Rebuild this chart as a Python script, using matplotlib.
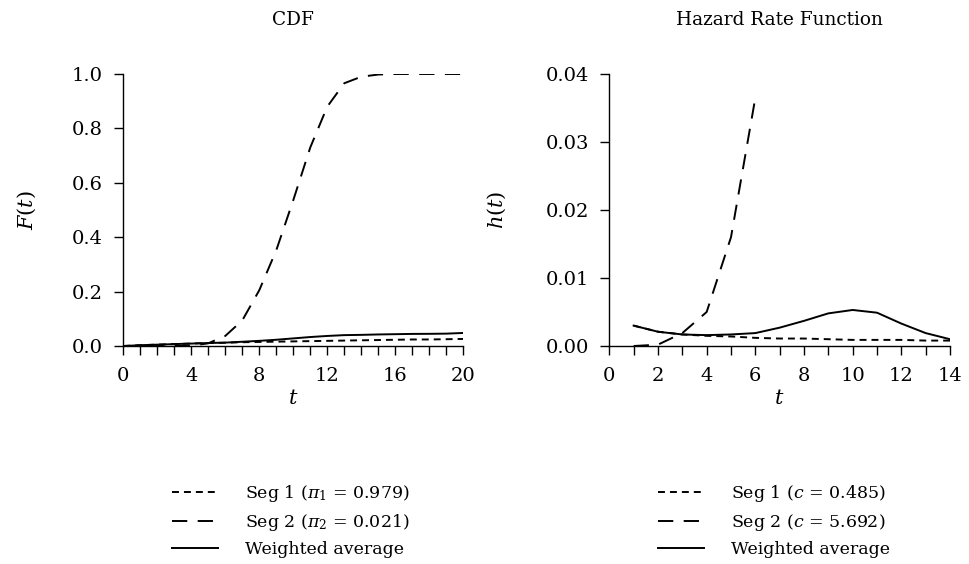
import matplotlib
matplotlib.use("Agg")
import matplotlib.pyplot as plt
from matplotlib.ticker import MultipleLocator

plt.rcParams['font.family'] = ['DejaVu Serif']
plt.rcParams['mathtext.fontset'] = 'dejavuserif'
plt.rcParams['lines.scale_dashes'] = False

# CDF panel
t_cdf = list(range(0, 21))
cdf_seg1 = [0.0, 0.003, 0.005, 0.007, 0.009, 0.011, 0.012, 0.014, 0.015, 0.016, 0.017,
            0.018, 0.019, 0.020, 0.021, 0.022, 0.023, 0.024, 0.024, 0.025, 0.026]
cdf_seg2 = [0.0, 0.0, 0.0, 0.0, 0.001, 0.01, 0.037, 0.094, 0.205, 0.352, 0.536,
            0.73, 0.88, 0.966, 0.99, 0.998, 1.0, 1.0, 1.0, 1.0, 1.0]
cdf_avg = [0.0, 0.003, 0.005, 0.007, 0.009, 0.011, 0.0125, 0.0157, 0.019, 0.023, 0.028,
           0.033, 0.037, 0.040, 0.041, 0.0425, 0.0435, 0.0445, 0.0448, 0.0455, 0.048]

# hazard panel
t_haz = list(range(1, 15))
haz_seg1 = [0.0030, 0.0021, 0.0017, 0.0015, 0.0014, 0.0012, 0.0011, 0.0011, 0.0010,
            0.0009, 0.0009, 0.0009, 0.0008, 0.0008]
t_haz2 = list(range(1, 7))
haz_seg2 = [0.0, 0.0002, 0.0019, 0.0050, 0.0160, 0.0365]
haz_avg = [0.0030, 0.0021, 0.0017, 0.0016, 0.0017, 0.0019, 0.0027, 0.0037, 0.0048,
           0.0053, 0.0049, 0.0033, 0.0019, 0.0010]

labels_cdf = [r'Seg 1 ($\pi_1$ = 0.979)', r'Seg 2 ($\pi_2$ = 0.021)', 'Weighted average']
labels_haz = [r'Seg 1 ($c$ = 0.485)', r'Seg 2 ($c$ = 5.692)', 'Weighted average']

short = (0, (5, 3.6))
longd = (0, (11, 7.5))

fig = plt.figure(figsize=(9.69, 5.64), dpi=100)
ax1 = fig.add_axes([0.1272, 0.3865, 0.3509, 0.4823])
ax2 = fig.add_axes([0.6288, 0.3865, 0.3516, 0.4823])


def style(ax):
    for s in ['top', 'right']:
        ax.spines[s].set_visible(False)
    for s in ['left', 'bottom']:
        ax.spines[s].set_linewidth(1.0)
    ax.tick_params(which='both', direction='out', length=6.8, width=1.0,
                   labelsize=14, pad=8)


lw = 1.4
l1, = ax1.plot(t_cdf, cdf_seg1, color='black', lw=lw, linestyle=short)
l2, = ax1.plot(t_cdf, cdf_seg2, color='black', lw=lw, linestyle=longd)
l3, = ax1.plot(t_cdf, cdf_avg, color='black', lw=lw, linestyle='-')
ax1.set_xlim(0, 20)
ax1.set_ylim(0, 1.0)
ax1.xaxis.set_major_locator(MultipleLocator(4))
ax1.xaxis.set_minor_locator(MultipleLocator(1))
ax1.set_yticks([0.0, 0.2, 0.4, 0.6, 0.8, 1.0])
ax1.set_yticklabels(['0.0', '0.2', '0.4', '0.6', '0.8', '1.0'])
style(ax1)
ax1.set_title('CDF', fontsize=13.3, pad=35)
ax1.set_xlabel(r'$t$', fontsize=15, labelpad=3)
ax1.set_ylabel(r'$F(t)$', fontsize=15, labelpad=24.5)

m1, = ax2.plot(t_haz, haz_seg1, color='black', lw=lw, linestyle=short)
m2, = ax2.plot(t_haz2, haz_seg2, color='black', lw=lw, linestyle=longd)
m3, = ax2.plot(t_haz, haz_avg, color='black', lw=lw, linestyle='-')
ax2.set_xlim(0, 14)
ax2.set_ylim(0, 0.04)
ax2.xaxis.set_major_locator(MultipleLocator(2))
ax2.xaxis.set_minor_locator(MultipleLocator(1))
ax2.set_yticks([0.0, 0.01, 0.02, 0.03, 0.04])
ax2.set_yticklabels(['0.00', '0.01', '0.02', '0.03', '0.04'])
style(ax2)
ax2.set_title('Hazard Rate Function', fontsize=13.3, pad=35)
ax2.set_xlabel(r'$t$', fontsize=15, labelpad=3)
ax2.set_ylabel(r'$h(t)$', fontsize=15, labelpad=26.5)

fig.legend([l1, l2, l3], labels_cdf, loc='upper left', bbox_to_anchor=(0.1775, 0.144),
           frameon=False, fontsize=12.5, handlelength=2.65, handletextpad=1.55,
           labelspacing=0.48, borderpad=0, borderaxespad=0)
fig.legend([m1, m2, m3], labels_haz, loc='upper left', bbox_to_anchor=(0.679, 0.144),
           frameon=False, fontsize=12.5, handlelength=2.65, handletextpad=1.55,
           labelspacing=0.48, borderpad=0, borderaxespad=0)

fig.savefig('out.png', dpi=100)
